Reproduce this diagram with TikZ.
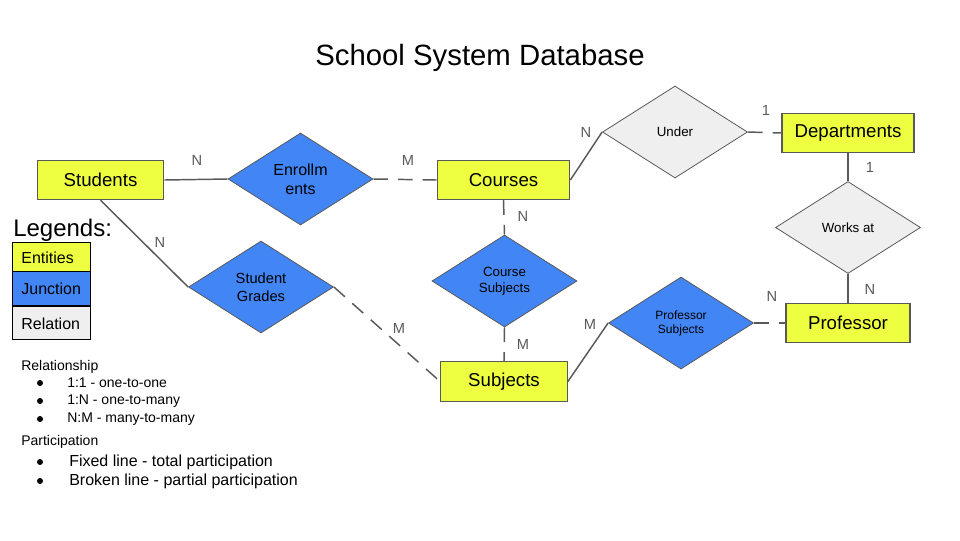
\documentclass[tikz,border=0pt]{standalone}
\usepackage{fontspec}
\setmainfont{Liberation Sans}
\usetikzlibrary{shapes.geometric}
\definecolor{entcol}{HTML}{EEFF41}
\definecolor{juncol}{HTML}{4285F4}
\definecolor{relcol}{HTML}{EFEFEF}
\definecolor{edgecol}{HTML}{595959}
\definecolor{labcol}{HTML}{595959}
\tikzset{
  entity/.style={draw=edgecol, fill=entcol, line width=0.8pt, minimum width=95pt, minimum height=29.5pt, inner sep=0pt, font=\fontsize{14}{16}\selectfont},
  junction/.style={diamond, draw=edgecol, fill=juncol, line width=0.6pt, aspect=1.58, minimum width=108.75pt, minimum height=69pt, inner sep=0pt, align=center},
  relation/.style={junction, fill=relcol},
  conn/.style={draw=edgecol, line width=1.1pt},
  part/.style={conn, dash pattern=on 11pt off 7.5pt},
  card/.style={text=labcol, font=\fontsize{11}{13}\selectfont, inner sep=0pt},
  legbox/.style={draw=black, line width=0.6pt, minimum width=58.5pt, inner ysep=0pt, inner xsep=0pt, anchor=north west, font=\fontsize{12}{14}\selectfont, text width=45pt, align=left, text depth=0pt, text height=10pt},
  legtext/.style={anchor=west, inner sep=0pt},
  bul/.style={circle, fill=black, inner sep=0pt, minimum size=4.5pt}
}
\begin{document}
\begin{tikzpicture}[x=0.75pt, y=-0.75pt]
\useasboundingbox (0,0) rectangle (960,540);
\node[font=\fontsize{22}{26}\selectfont] (title) at (480,58) {School System Database};

% entities
\node[entity] (students) at (100.5,180) {Students};
\node[entity, minimum width=99.5pt] (courses) at (503.5,180) {Courses};
\node[entity, minimum width=99pt] (depts) at (848,133) {Departments};
\node[entity, minimum width=93pt] (prof) at (848,323) {Professor};
\node[entity] (subjects) at (504,381.5) {Subjects};

% junctions / relations
\node[junction, font=\fontsize{12}{14.2}\selectfont] (enr) at (300.5,179) {Enrollm\\ents};
\node[relation, font=\fontsize{10}{12}\selectfont] (under) at (675,132) {Under};
\node[relation, font=\fontsize{10}{12}\selectfont] (works) at (848,227.5) {Works at};
\node[junction, font=\fontsize{9}{10.5}\selectfont] (profsub) at (681,323) {Professor\\Subjects};
\node[junction, font=\fontsize{10}{12}\selectfont] (coursub) at (504.5,281) {Course\\Subjects};
\node[junction, font=\fontsize{11}{13.5}\selectfont] (stgr) at (261,287) {Student\\Grades};

% connectors
\draw[conn] (students.east) -- (enr.west);
\draw[part] (enr.east) -- (courses.west);
\draw[conn] (courses.east) -- (under.west);
\draw[part] (under.east) -- (depts.west);
\draw[conn] (depts.south) -- (works.north);
\draw[conn] (works.south) -- (prof.north);
\draw[part] (profsub.east) -- (prof.west);
\draw[conn] (subjects.east) -- (profsub.west);
\draw[part] (courses.south) -- (coursub.north);
\draw[part] (coursub.south) -- (subjects.north);
\draw[conn] (students.south) -- (stgr.west);
\draw[part] (stgr.east) -- (subjects.west);

% cardinalities
\node[card] (c1) at (197,160) {N};
\node[card] (c2) at (408,160) {M};
\node[card] (c3) at (586,132) {N};
\node[card] (c4) at (766,110) {1};
\node[card] (c5) at (870,167) {1};
\node[card] (c6) at (870,289) {N};
\node[card] (c7) at (772,296) {N};
\node[card] (c8) at (590,324) {M};
\node[card] (c9) at (523,216) {N};
\node[card] (c10) at (523,344) {M};
\node[card] (c11) at (160,242) {N};
\node[card] (c12) at (399,328) {M};

% legend
\node[legtext, font=\fontsize{18}{20}\selectfont] (leg) at (13,230) {Legends:};
\node[legbox, fill=entcol, minimum height=21.5pt] (l1) at (12,242) {Entities};
\node[legbox, fill=juncol, minimum height=26pt] (l2) at (12,270.5) {Junction};
\node[legbox, fill=relcol, minimum height=25pt] (l3) at (12,305.5) {Relation};

\begin{scope}[every node/.style={legtext, font=\fontsize{10.5}{12}\selectfont}]
\node (r0) at (21,367) {Relationship};
\node (r1) at (67,383) {1:1 - one-to-one};
\node (r2) at (67,401) {1:N - one-to-many};
\node (r3) at (67,419) {N:M - many-to-many};
\node (p0) at (21,442) {Participation};
\end{scope}
\node[bul] (rb1) at (40,383) {};
\node[bul] (rb2) at (40,401) {};
\node[bul] (rb3) at (40,419) {};
\begin{scope}[every node/.style={legtext, font=\fontsize{12}{14}\selectfont}]
\node (p1) at (69,462) {Fixed line - total participation};
\node (p2) at (69,481) {Broken line - partial participation};
\end{scope}
\node[bul] (pb1) at (40,462) {};
\node[bul] (pb2) at (40,481) {};
\end{tikzpicture}
\end{document}
